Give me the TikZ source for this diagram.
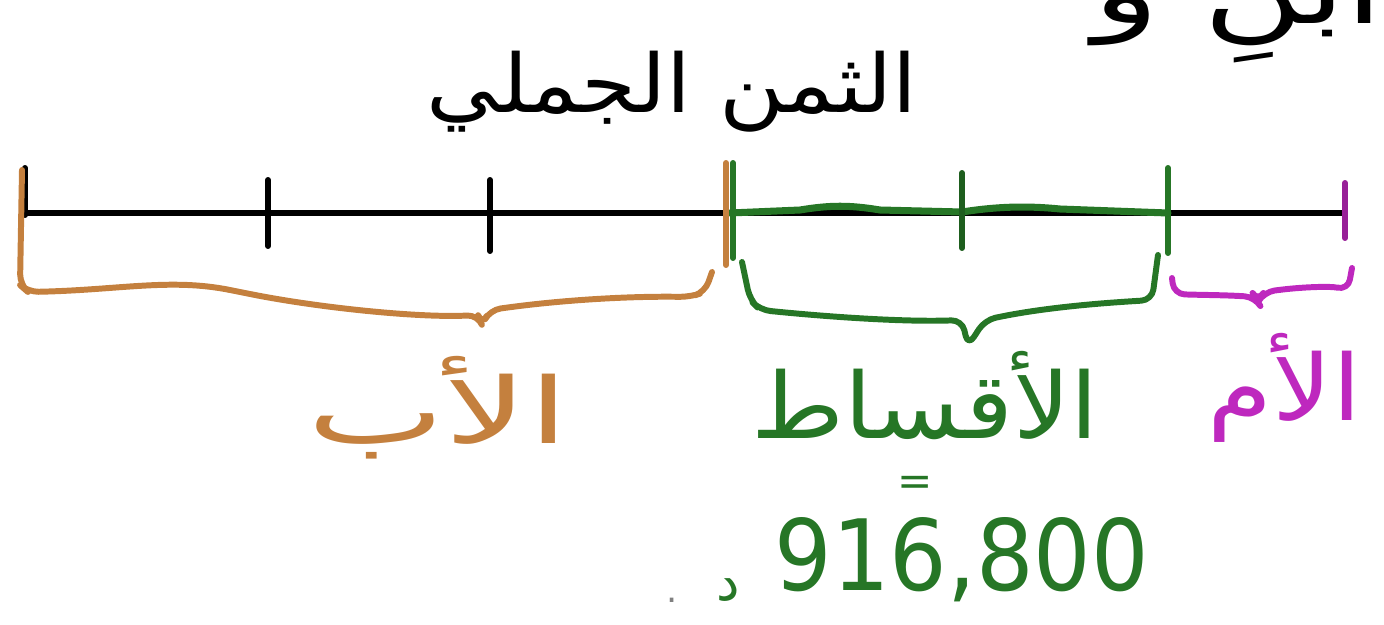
\documentclass[tikz,border=0pt]{standalone}
\usepackage{fontspec}
\usetikzlibrary{calc}
\newfontfamily\arabicfont[Script=Arabic]{DejaVu Sans}
\newfontfamily\numfont{DejaVu Sans}
\TeXXeTstate=1
\definecolor{cOrange}{RGB}{196,128,62}
\definecolor{cGreen}{RGB}{38,118,38}
\definecolor{cMag}{RGB}{190,40,190}
\begin{document}
\begin{tikzpicture}[x=0.02cm,y=-0.02cm,
  ar/.style={font=\arabicfont\fontsize{52}{58}\selectfont, inner sep=0pt},
  axis/.style={line width=3.2pt, black},
  tick/.style={line width=3.4pt, line cap=round},
  brc/.style={line width=3.4pt, line cap=round, line join=round, rounded corners=6pt}]
\useasboundingbox (0,0) rectangle (1384,625);
\clip (0,0) rectangle (1384,625);
% partially visible text at the top
\node[ar, anchor=base east, text=black] (top) at (1384,24) {\scalebox{1.5}[1]{\beginR ابنِ و\endR}};
% title
\node[ar, font=\arabicfont\fontsize{46}{52}\selectfont, text=black] (title) at (672,92) {\scalebox{1.1}[1]{\beginR الثمن الجملي\endR}};
% coordinates on the line
\coordinate (p0) at (25,213);
\coordinate (p1) at (268,213);
\coordinate (p2) at (490,213);
\coordinate (p3) at (730,213);
\coordinate (p4) at (962,213);
\coordinate (p5) at (1168,213);
\coordinate (p6) at (1345,213);
% main line
\draw[axis] (p0) -- (p6);
% green overlay
\draw[line width=4pt, cGreen, line cap=round] (p3) -- (800,210) .. controls (830,205) and (850,205) .. (880,210) -- (962,212)
  .. controls (1000,206) and (1030,206) .. (1060,209) -- (p5);
% ticks
\draw[tick, black] ($(p0)+(0,-45)$) -- ($(p0)+(0,2)$);
\draw[tick, black] ($(p1)+(0,-33)$) -- ($(p1)+(0,33)$);
\draw[tick, black] ($(p2)+(0,-33)$) -- ($(p2)+(0,38)$);
\draw[tick, cOrange] ($(p3)+(-4,-50)$) -- ($(p3)+(-4,52)$);
\draw[tick, cGreen] ($(p3)+(3,-50)$) -- ($(p3)+(3,45)$);
\draw[tick, cGreen!80!black] ($(p4)+(0,-40)$) -- ($(p4)+(0,35)$);
\draw[tick, cGreen] ($(p5)+(0,-45)$) -- ($(p5)+(0,40)$);
\draw[tick, cMag!80!black] ($(p6)+(0,-30)$) -- ($(p6)+(0,25)$);
% orange brace
\draw[brc, cOrange] (22,170) -- (20,285) -- (28,292)
  .. controls (120,290) and (170,278) .. (240,292)
  .. controls (320,308) and (420,318) .. (478,315) -- (482,325) -- (490,310)
  .. controls (560,300) and (630,296) .. (690,297) -- (705,292) -- (712,272);
% green brace
\draw[brc, cGreen] (742,262) -- (750,300) -- (760,310)
  .. controls (840,318) and (910,322) .. (962,320) -- (968,346) -- (985,320)
  .. controls (1050,306) and (1120,302) .. (1152,300) -- (1158,255);
% magenta brace
\draw[brc, cMag] (1172,278) -- (1174,294)
  .. controls (1200,295) and (1225,295) .. (1255,297) -- (1258,302) -- (1264,292)
  .. controls (1300,287) and (1330,286) .. (1348,290) -- (1352,268);
% labels
\node[ar, text=cOrange] (father) at (438,408) {\scalebox{1.6}[1]{\beginR الأب\endR}};
\node[ar, text=cGreen] (inst) at (925,396) {\scalebox{1.1}[1]{\beginR الأقساط\endR}};
\node[ar, text=cMag] (mother) at (1285,388) {\scalebox{1.15}[1]{\beginR الأم\endR}};
\node[font=\numfont\fontsize{24}{26}\selectfont, text=cGreen, inner sep=0pt] (eq) at (915,486) {=};
\node[font=\numfont\fontsize{56}{60}\selectfont, text=cGreen, inner sep=0pt] (amount) at (962,560) {\scalebox{0.92}[1]{916,800}};
\node[ar, font=\arabicfont\fontsize{30}{34}\selectfont, text=cGreen] (dinar) at (728,590) {\beginR د\endR};
\node[font=\numfont\fontsize{20}{24}\selectfont, text=gray, inner sep=0pt] (dot) at (672,600) {.};
\end{tikzpicture}
\end{document}
